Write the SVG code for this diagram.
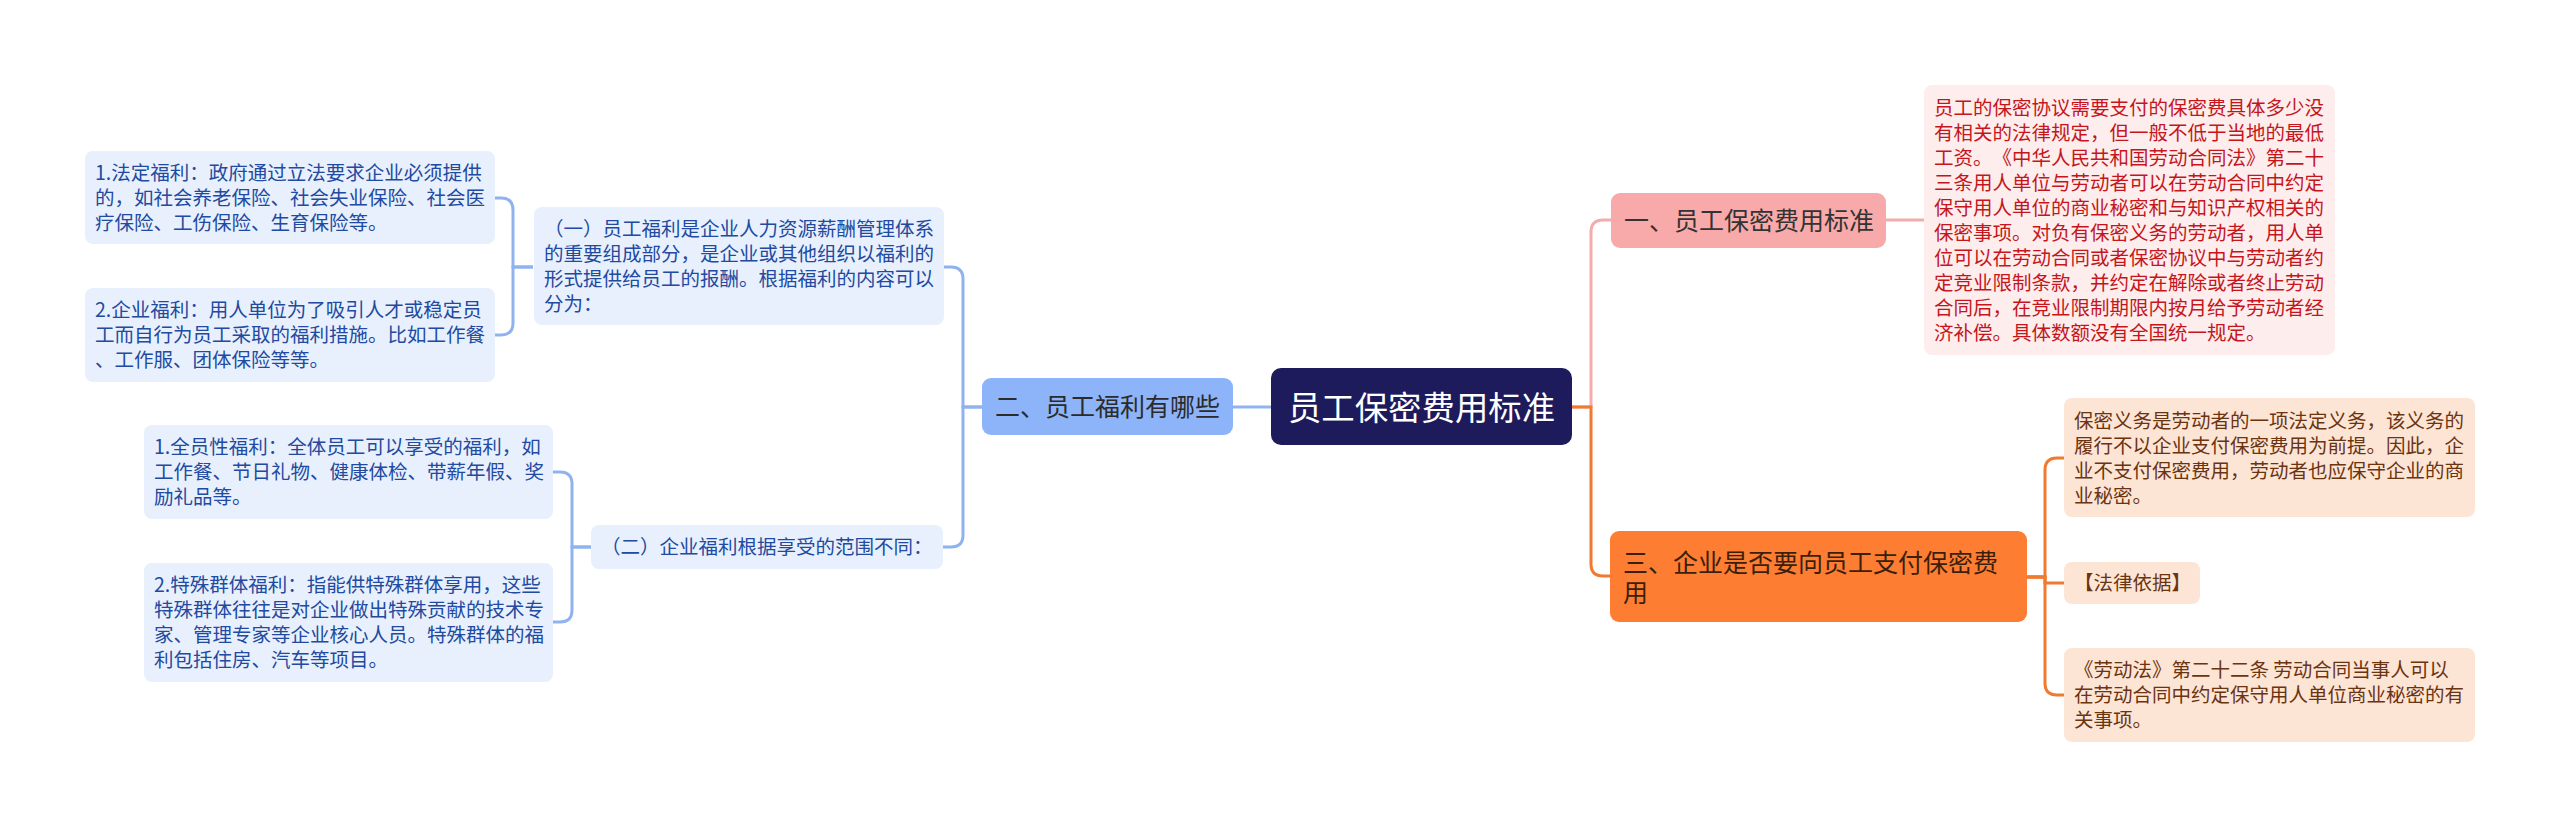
<svg xmlns="http://www.w3.org/2000/svg" width="2560" height="827" viewBox="0 0 2560 827">
<style>
text{font-family:"Noto Sans CJK SC","Noto Sans",sans-serif;text-spacing-trim:space-all;}
.leafB rect{fill:#e8f0fd;}
.leafB text{fill:#214aa0;font-size:19.5px;}
.leafO rect{fill:#fde5d6;}
.leafO text{fill:#6b3410;font-size:19.5px;}
.leafR rect{fill:#fdeded;}
.leafR text{fill:#c4161c;font-size:19.5px;}
.l1 text{font-size:25px;}
.cb{fill:none;stroke:#8fb3ef;stroke-width:3;}
.cp{fill:none;stroke:#f4abab;stroke-width:3;}
.co{fill:none;stroke:#f07a30;stroke-width:3;}
</style>
<rect width="2560" height="827" fill="#ffffff"/>
<g id="connectors">
<path class="cb" d="M1271,407 H1233"/>
<path class="cb" d="M982,407 H963 V279 Q963,267 951,267 H944"/>
<path class="cb" d="M982,407 H963 V535 Q963,547 951,547 H943"/>
<path class="cb" d="M533,267 H513 V210 Q513,198 501,198 H495"/>
<path class="cb" d="M533,267 H513 V323 Q513,335 501,335 H495"/>
<path class="cb" d="M591,547 H572 V484 Q572,472 560,472 H553"/>
<path class="cb" d="M591,547 H572 V610 Q572,622 560,622 H553"/>
<path class="cp" d="M1572,407 H1591 V232 Q1591,220 1603,220 H1611"/>
<path class="cp" d="M1886,220 H1924"/>
<path class="co" d="M1572,407 H1591 V564 Q1591,576 1603,576 H1611"/>
<path class="co" d="M2027,577 H2045 V470 Q2045,458 2057,458 H2064"/>
<path class="co" d="M2027,577 H2045 V583 H2064"/>
<path class="co" d="M2027,577 H2045 V683 Q2045,695 2057,695 H2064"/>
</g>
<g id="root">
<rect x="1271" y="368" width="301" height="77" rx="10" fill="#1e1b5c"/>
<text x="1421.5" y="419.5" font-size="33.4" fill="#ffffff" text-anchor="middle">员工保密费用标准</text>
</g>
<g id="n2" class="l1">
<rect x="982" y="378" width="251" height="57" rx="9" fill="#8db4f8"/>
<text x="995" y="416" fill="#2b2b2b">二、员工福利有哪些</text>
</g>
<g id="n1" class="l1">
<rect x="1611" y="193" width="275" height="55" rx="9" fill="#f8aaaa"/>
<text x="1624" y="229.5" fill="#333333">一、员工保密费用标准</text>
</g>
<g id="n3" class="l1">
<rect x="1610" y="531" width="417" height="91" rx="9" fill="#fd7d33"/>
<text fill="#3c1f0a"><tspan x="1623" y="572">三、企业是否要向员工支付保密费</tspan><tspan x="1623" y="602">用</tspan></text>
</g>
<g id="r1" class="leafR">
<rect x="1924" y="85" width="411" height="270" rx="8"/>
<text x="1934" y="115">员工的保密协议需要支付的保密费具体多少没</text>
<text x="1934" y="140">有相关的法律规定，但一般不低于当地的最低</text>
<text x="1934" y="165">工资。《中华人民共和国劳动合同法》第二十</text>
<text x="1934" y="190">三条用人单位与劳动者可以在劳动合同中约定</text>
<text x="1934" y="215">保守用人单位的商业秘密和与知识产权相关的</text>
<text x="1934" y="240">保密事项。对负有保密义务的劳动者，用人单</text>
<text x="1934" y="265">位可以在劳动合同或者保密协议中与劳动者约</text>
<text x="1934" y="290">定竞业限制条款，并约定在解除或者终止劳动</text>
<text x="1934" y="315">合同后，在竞业限制期限内按月给予劳动者经</text>
<text x="1934" y="340">济补偿。具体数额没有全国统一规定。</text>
</g>
<g id="o1" class="leafO">
<rect x="2064" y="398" width="411" height="119" rx="8"/>
<text x="2074" y="427.5">保密义务是劳动者的一项法定义务，该义务的</text>
<text x="2074" y="452.5">履行不以企业支付保密费用为前提。因此，企</text>
<text x="2074" y="477.5">业不支付保密费用，劳动者也应保守企业的商</text>
<text x="2074" y="502.5">业秘密。</text>
</g>
<g id="o2" class="leafO">
<rect x="2064" y="562" width="136" height="42" rx="8"/>
<text x="2074" y="590.3">【法律依据】</text>
</g>
<g id="o3" class="leafO">
<rect x="2064" y="648" width="411" height="94" rx="8"/>
<text x="2074" y="677.3">《劳动法》第二十二条 劳动合同当事人可以</text>
<text x="2074" y="702.3">在劳动合同中约定保守用人单位商业秘密的有</text>
<text x="2074" y="727.3">关事项。</text>
</g>
<g id="b1" class="leafB">
<rect x="534" y="207" width="410" height="118" rx="8"/>
<text x="544" y="235.5">（一）员工福利是企业人力资源薪酬管理体系</text>
<text x="544" y="260.5">的重要组成部分，是企业或其他组织以福利的</text>
<text x="544" y="285.5">形式提供给员工的报酬。根据福利的内容可以</text>
<text x="544" y="310.5">分为：</text>
</g>
<g id="b2" class="leafB">
<rect x="591" y="525" width="352" height="44" rx="8"/>
<text x="601" y="554.3">（二）企业福利根据享受的范围不同：</text>
</g>
<g id="b11" class="leafB">
<rect x="85" y="151" width="410" height="93" rx="8"/>
<text x="95" y="180.3">1.法定福利：政府通过立法要求企业必须提供</text>
<text x="95" y="205.3">的，如社会养老保险、社会失业保险、社会医</text>
<text x="95" y="230.3">疗保险、工伤保险、生育保险等。</text>
</g>
<g id="b12" class="leafB">
<rect x="85" y="288" width="410" height="94" rx="8"/>
<text x="95" y="317.3">2.企业福利：用人单位为了吸引人才或稳定员</text>
<text x="95" y="342.3">工而自行为员工采取的福利措施。比如工作餐</text>
<text x="95" y="367.3">、工作服、团体保险等等。</text>
</g>
<g id="b21" class="leafB">
<rect x="144" y="425" width="409" height="94" rx="8"/>
<text x="154" y="454.3">1.全员性福利：全体员工可以享受的福利，如</text>
<text x="154" y="479.3">工作餐、节日礼物、健康体检、带薪年假、奖</text>
<text x="154" y="504.3">励礼品等。</text>
</g>
<g id="b22" class="leafB">
<rect x="144" y="563" width="409" height="119" rx="8"/>
<text x="154" y="592.3">2.特殊群体福利：指能供特殊群体享用，这些</text>
<text x="154" y="617.3">特殊群体往往是对企业做出特殊贡献的技术专</text>
<text x="154" y="642.3">家、管理专家等企业核心人员。特殊群体的福</text>
<text x="154" y="667.3">利包括住房、汽车等项目。</text>
</g>
</svg>
